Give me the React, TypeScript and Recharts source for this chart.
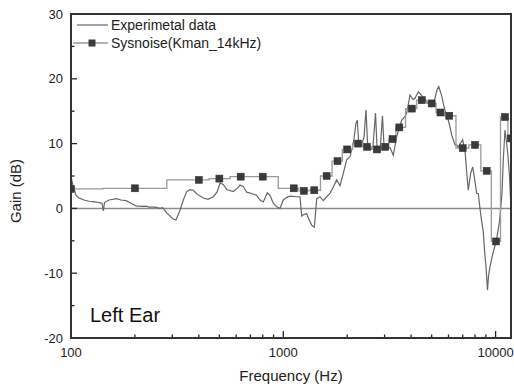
import React from 'react';
import { LineChart, Line, XAxis, YAxis, ReferenceLine } from 'recharts';

// Experimental data (frequency Hz, gain dB)
const expFreq = [
  100, 102.2, 105.6, 109.1, 115.1, 121.6, 129.7, 135.5, 140.0, 142.0, 143.8, 151.0, 163.8, 172.0, 181.6, 191.7,
  202.4, 215.3, 225.6, 233.8, 248.7, 262.6, 270.4, 282.4, 301.3, 312.3, 326.2, 338.1, 350.8, 363.6, 376.9, 392.3,
  420.2, 441.9, 468.1, 487.3, 503.4, 521.8, 541.4, 581.6, 611.9, 625.2, 648.0, 672.4, 709.9, 749.4, 776.8, 805.1,
  840.8, 865.9, 897.3, 934.0, 964.9, 1000, 1037.5, 1075.5, 1156.5, 1198.7, 1221, 1242, 1289, 1312, 1361, 1385,
  1400, 1437, 1489, 1543, 1601, 1660, 1720, 1785, 1850, 1917, 1989, 2062, 2137, 2200, 2232, 2261, 2341, 2400,
  2453, 2493, 2562, 2646, 2719, 2764, 2855, 2933, 2981, 3080, 3181, 3297, 3421, 3508, 3612, 3744, 3813, 3953,
  4083, 4173, 4325, 4487, 4650, 4737, 5000, 5182, 5296, 5400, 5572, 5669, 5775, 5986, 6097, 6211, 6320, 6437,
  6557, 6672, 6797, 6923, 6998, 7097, 7175, 7306, 7435, 7631, 7799, 7910, 8147, 8289, 8443, 8582, 8752, 8866,
  9012, 9160, 9260, 9411, 9723, 10098, 10433, 10720, 10872, 11074, 11281, 11441, 11630, 11817,
];
const expGain = [
  4.9, 3.5, 2.0, 1.6, 1.3, 1.1, 1.0, 0.9, 0.8, -0.4, 0.9, 1.3, 1.5, 1.3, 1.2, 0.8,
  0.4, 0.3, 0.35, 0.2, 0.2, 0.0, 0.1, -0.7, -1.6, -1.8, -0.3, 1.3, 2.6, 2.9, 2.8, 2.2,
  1.6, 1.4, 1.8, 2.5, 3.9, 3.7, 2.9, 2.6, 3.2, 3.6, 3.4, 2.5, 2.3, 2.0, 1.3, 1.0,
  2.4, 2.0, 0.8, 0.2, 0.0, 1.3, 1.7, 1.9, 1.8, 1.8, -1.2, -1.0, -0.8, -1.5, -2.6, -2.8,
  -2.9, 1.5, 1.8, 1.2, 1.8, 2.3, 3.3, 4.4, 3.5, 5.4, 7.5, 8.0, 10.0, 13.1, 13.6, 10.5, 9.8, 11.0,
  15.2, 10.2, 9.0, 9.6, 14.7, 9.5, 8.8, 14.3, 9.7, 9.2, 9.4, 8.2, 11.1, 12.3, 13.6, 14.2, 14.7, 17.5,
  16.8, 17.0, 18.0, 17.4, 16.8, 16.5, 15.7, 17.0, 18.3, 18.8, 17.4, 16.2, 15.2, 13.6, 12.6, 11.3, 10.6, 9.8,
  9.8, 9.4, 10.0, 10.3, 10.6, 9.5, 9.0, 5.7, 2.8, 5.4, 6.4, 5.2, 2.3, 2.3, 0.0, -1.8, -3.6, -6.4,
  -9.0, -12.6, -10.5, -9.0, -6.9, -4.9, -2.0, 2.3, 7.5, 12.1, 10.0, 8.0, 5.0, 0.0,
];

// Sysnoise (Kman_14kHz) simulation
const simFreq = [
  100, 200, 400, 500, 630, 800, 1120, 1250, 1400, 1600, 1800, 2000, 2250, 2480, 2760, 3020, 3270, 3520,
  4030, 4490, 5000, 5500, 6050, 7000, 8000, 9080, 10050, 11070, 11800,
];
const simGain = [
  3.0, 3.1, 4.4, 4.6, 4.9, 4.9, 3.1, 2.7, 2.8, 5.0, 7.3, 9.1, 10.0, 9.5, 9.1, 9.5, 10.7, 12.5,
  15.4, 16.7, 16.2, 14.8, 14.3, 9.3, 9.8, 5.8, -5.1, 14.1, 10.8,
];

const xTicks = [100, 200, 300, 400, 500, 600, 700, 800, 900, 1000, 2000, 3000, 4000, 5000, 6000, 7000, 8000, 9000, 10000];
const xLabels = [100, 1000, 10000];
const yTicks = [-20, -15, -10, -5, 0, 5, 10, 15, 20, 25, 30];
const yLabels = [-20, -10, 0, 10, 20, 30];

const expData = expFreq.map((f, i) => ({ f, g: expGain[i] }));
const simData = simFreq.map((f, i) => ({ f, g: simGain[i] }));

const FONT = '"Liberation Sans", Arial, sans-serif';
const X_MIN = 100;
const X_MAX = 11820;
const FRAME = '#333333';

const XTick = (props: any) => {
  const { x, y, payload } = props;
  const v = payload.value;
  const major = xLabels.includes(v);
  return (
    <g>
      <line x1={x} x2={x} y1={y} y2={y - (major ? 7 : 3.5)} stroke="#222" strokeWidth={1.3} />
      {major && (
        <text x={x} y={y + 19} textAnchor="middle" fontSize={13} fill="#222" fontFamily={FONT}>
          {v}
        </text>
      )}
    </g>
  );
};

const YTick = (props: any) => {
  const { x, y, payload } = props;
  const v = payload.value;
  const major = yLabels.includes(v);
  return (
    <g>
      <line x1={x} x2={x + (major ? 6 : 3.5)} y1={y} y2={y} stroke="#222" strokeWidth={1.3} />
      {major && (
        <text x={x - 8} y={y + 4.6} textAnchor="end" fontSize={13} fill="#222" fontFamily={FONT}>
          {v}
        </text>
      )}
    </g>
  );
};

const SquareDot = (props: any) => {
  const { cx, cy, index } = props;
  if (cx == null || cy == null) return <g key={`e${index}`} />;
  return <rect key={`d${index}`} x={cx - 3.5} y={cy - 3.5} width={7} height={7} fill="#3a3a3a" stroke="#2a2a2a" strokeWidth={0.5} />;
};

export default function App() {
  return (
    <div style={{ position: 'absolute', left: 0, top: 0, width: 514, height: 386, background: '#fff' }}>
      <LineChart width={514} height={386} margin={{ top: 14, right: 3, bottom: 0, left: 0 }}>
        <XAxis
          dataKey="f"
          type="number"
          scale="log"
          domain={[X_MIN, X_MAX]}
          ticks={xTicks}
          interval={0}
          height={48}
          tickSize={0}
          tickMargin={0}
          tick={<XTick />}
          axisLine={{ stroke: FRAME, strokeWidth: 2 }}
          tickLine={false}
          allowDataOverflow
        />
        <YAxis
          type="number"
          domain={[-20, 30]}
          ticks={yTicks}
          interval={0}
          width={71}
          tickSize={0}
          tickMargin={0}
          tick={<YTick />}
          axisLine={{ stroke: FRAME, strokeWidth: 2 }}
          tickLine={false}
          allowDataOverflow
        />
        <ReferenceLine y={0} stroke="#8a8a8a" strokeWidth={1.5} />
        <Line
          data={expData}
          dataKey="g"
          type="linear"
          stroke="#666"
          strokeWidth={1.2}
          dot={false}
          isAnimationActive={false}
        />
        <Line
          data={simData}
          dataKey="g"
          type="step"
          stroke="#9a9a9a"
          strokeWidth={1.3}
          dot={<SquareDot />}
          isAnimationActive={false}
        />
      </LineChart>
      <svg width={514} height={386} style={{ position: 'absolute', left: 0, top: 0, pointerEvents: 'none' }}>
        <rect x={71} y={14} width={440} height={324} fill="none" stroke={FRAME} strokeWidth={2} />
        <g fontFamily={FONT} fill="#222">
          <line x1={77} x2={108} y1={25} y2={25} stroke="#666" strokeWidth={1.2} />
          <text x={111} y={30} fontSize={14}>Experimetal data</text>
          <line x1={73} x2={108} y1={43} y2={43} stroke="#9a9a9a" strokeWidth={1.3} />
          <rect x={88.5} y={39.5} width={7} height={7} fill="#3a3a3a" />
          <text x={111} y={48} fontSize={14}>Sysnoise(Kman_14kHz)</text>
          <text x={90} y={322} fontSize={20} fill="#111">Left Ear</text>
          <text x={291} y={381} fontSize={15} textAnchor="middle">Frequency (Hz)</text>
          <text x={21} y={191} fontSize={15} textAnchor="middle" transform="rotate(-90 21 191)">Gain (dB)</text>
        </g>
      </svg>
    </div>
  );
}
